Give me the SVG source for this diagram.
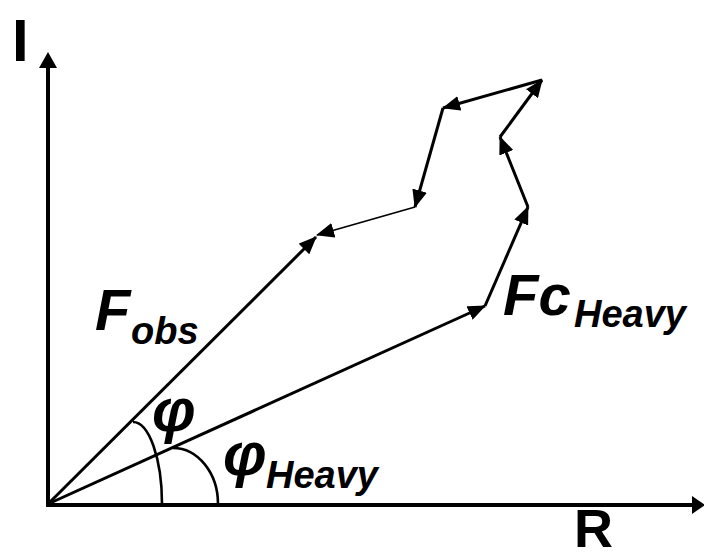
<svg xmlns="http://www.w3.org/2000/svg" width="704" height="559" viewBox="0 0 704 559">
<style>
.ax{stroke:#000;stroke-width:4;fill:none}
.vec{stroke:#000;stroke-width:3;fill:none;marker-end:url(#ah)}
.thin{stroke:#000;stroke-width:1.6;fill:none;marker-end:url(#ah)}
.arc{stroke:#000;stroke-width:2.6;fill:none}
.big{font-family:"Liberation Sans",Arial,sans-serif;font-weight:bold;font-style:italic;font-size:58px;fill:#000}
.phi{font-family:"Liberation Sans",Arial,sans-serif;font-weight:bold;font-style:italic;font-size:62px;fill:#000}
.sub{font-family:"Liberation Sans",Arial,sans-serif;font-weight:bold;font-style:italic;font-size:38px;fill:#000}
.axl{font-family:"Liberation Sans",Arial,sans-serif;font-weight:bold;font-size:60px;fill:#000}
</style>
<defs>
<marker id="ah" markerUnits="userSpaceOnUse" markerWidth="18" markerHeight="15" viewBox="0 0 18 15" refX="17" refY="7.5" orient="auto">
<path d="M0,0 L18,7.5 L0,15 Z" fill="#000"/>
</marker>
</defs>
<rect width="704" height="559" fill="#fff"/>
<g id="axes">
<line class="ax" x1="48" y1="506" x2="48" y2="66"/>
<polygon points="39,68 48,52 57,68" fill="#000"/>
<line class="ax" x1="46" y1="505" x2="696" y2="505"/>
<polygon points="692,496 705,505 692,514" fill="#000"/>
</g>
<g id="connectors">
<line class="vec" x1="48" y1="504" x2="316" y2="237"/>
<line class="vec" x1="48" y1="504" x2="485" y2="306"/>
<line class="vec" x1="485" y1="306" x2="528" y2="207"/>
<line class="vec" x1="528" y1="207" x2="500" y2="137"/>
<line class="vec" x1="500" y1="137" x2="542" y2="80"/>
<line class="vec" x1="542" y1="80" x2="443" y2="108"/>
<line class="vec" x1="443" y1="108" x2="415" y2="207"/>
<line class="thin" x1="415" y1="207" x2="317" y2="235"/>
</g>
<g id="angles">
<path class="arc" d="M133,422 A29,82 0 0 1 162,504"/>
<path class="arc" d="M173,448 A45,56 0 0 1 218,504"/>
</g>
<g id="labels">
<text class="axl" x="12" y="61">I</text>
<text class="axl" x="574" y="547" style="font-size:54px">R</text>
<text class="big" x="95" y="330">F</text>
<text class="sub" x="131" y="344">obs</text>
<text class="big" x="503" y="315">Fc</text>
<text class="sub" x="574" y="327">Heavy</text>
<text class="phi" x="152" y="431">φ</text>
<text class="phi" x="223" y="475">φ</text>
<text class="sub" x="266" y="488">Heavy</text>
</g>
</svg>
